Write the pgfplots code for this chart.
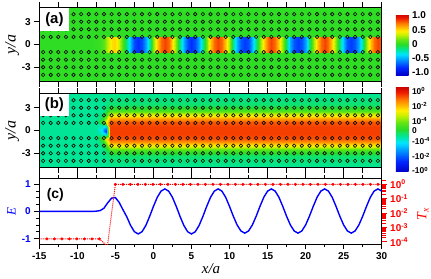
\documentclass[border=0pt]{standalone}
\usepackage{fontspec}
\setmainfont{Liberation Sans}
\newfontfamily\tnr{Liberation Serif}
\usepackage{pgfplots}
\usepackage{pgfplotstable}
\pgfplotsset{compat=1.18}

\definecolor{bgA}{RGB}{48,221,37}
\tikzset{tlab/.style={font=\fontsize{10}{12}\selectfont\bfseries},
  plab/.style={fill=white, anchor=north west, minimum width=29bp, inner sep=0pt,
  font=\fontsize{15}{15}\selectfont\bfseries}}
\pgfplotsset{
  colormap={myjet}{rgb255(0pt)=(0,0,200); rgb255(12pt)=(0,40,255); rgb255(25pt)=(0,150,255); rgb255(34pt)=(0,230,255); rgb255(42pt)=(0,230,150); rgb255(50pt)=(40,220,40); rgb255(58pt)=(100,230,20); rgb255(66pt)=(200,240,0); rgb255(72pt)=(255,240,0); rgb255(84pt)=(255,130,0); rgb255(93pt)=(240,30,0); rgb255(100pt)=(200,0,0)},
  panel/.style={scale only axis, width=342.4bp, xmin=-15, xmax=30,
    tick align=outside, axis line style={line width=0.8bp},
    tick style={line width=0.8bp, black},
    major tick length=5bp, minor tick length=5bp,
    tick label style={tlab},
    /pgf/number format/assume math mode=true,
    xtick={-15,-10,...,30}, minor xtick={-12.5,-7.5,...,27.5},
    xtick pos=both, ytick pos=left, clip marker paths=true},
  rod/.style={only marks, mark=o, black, mark size=1.75bp, mark options={line width=0.6bp}},
}

% lattice rod x positions (second column unused)
\pgfplotstableread[row sep=\\]{x r\\-14.5 0\\-13.5 0\\-12.5 0\\-11.5 0\\-10.5 0\\-9.5 0\\-8.5 0\\-7.5 0\\-6.5 0\\-5.5 0\\-4.5 0\\-3.5 0\\-2.5 0\\-1.5 0\\-0.5 0\\0.5 0\\1.5 0\\2.5 0\\3.5 0\\4.5 0\\5.5 0\\6.5 0\\7.5 0\\8.5 0\\9.5 0\\10.5 0\\11.5 0\\12.5 0\\13.5 0\\14.5 0\\15.5 0\\16.5 0\\17.5 0\\18.5 0\\19.5 0\\20.5 0\\21.5 0\\22.5 0\\23.5 0\\24.5 0\\25.5 0\\26.5 0\\27.5 0\\28.5 0\\29.5 0\\}\rods

% field E along the guide
\pgfplotstableread[row sep=\\]{x E\\-15 0\\
-8 0\\-7.5 0.01\\-7 0.03\\-6.5 0.12\\-6 0.32\\-5.5 0.49\\
-5 0.51\\-4.5 0.33\\-4 0.06\\-3.5 -0.2\\-3 -0.518\\-2.5 -0.748\\
-2 -0.83\\-1.5 -0.748\\-1 -0.518\\-0.5 -0.185\\0 0.185\\0.5 0.518\\
1 0.748\\1.5 0.83\\2 0.748\\2.5 0.518\\3 0.185\\3.5 -0.185\\
4 -0.518\\4.5 -0.748\\5 -0.83\\5.5 -0.748\\6 -0.518\\6.5 -0.185\\
7 0.185\\7.5 0.518\\8 0.748\\8.5 0.83\\9 0.748\\9.5 0.518\\
10 0.185\\10.5 -0.178\\11 -0.5\\11.5 -0.72\\12 -0.8\\12.5 -0.72\\
13 -0.5\\13.5 -0.178\\14 0.185\\14.5 0.518\\15 0.748\\15.5 0.83\\
16 0.748\\16.5 0.518\\17 0.185\\17.5 -0.178\\18 -0.5\\18.5 -0.72\\
19 -0.8\\19.5 -0.72\\20 -0.5\\20.5 -0.178\\21 0.185\\21.5 0.518\\
22 0.748\\22.5 0.83\\23 0.748\\23.5 0.518\\24 0.185\\24.5 -0.178\\
25 -0.5\\25.5 -0.72\\26 -0.8\\26.5 -0.72\\27 -0.5\\27.5 -0.178\\
28 0.185\\28.5 0.518\\29 0.748\\29.5 0.83\\30 0.748\\}\Edata

% map (a): field in the guide core, two scanlines y=-1 and y=1
\pgfplotstableread[row sep=\\]{x y m\\
-8 -1 0\\-7.5 -1 0.01\\-7 -1 0.03\\-6.5 -1 0.12\\-6 -1 0.32\\-5.5 -1 0.49\\
-5 -1 0.51\\-4.5 -1 0.33\\-4 -1 0.06\\-3.5 -1 -0.2\\-3 -1 -0.518\\-2.5 -1 -0.748\\
-2 -1 -0.83\\-1.5 -1 -0.748\\-1 -1 -0.518\\-0.5 -1 -0.185\\0 -1 0.185\\0.5 -1 0.518\\
1 -1 0.748\\1.5 -1 0.83\\2 -1 0.748\\2.5 -1 0.518\\3 -1 0.185\\3.5 -1 -0.185\\
4 -1 -0.518\\4.5 -1 -0.748\\5 -1 -0.83\\5.5 -1 -0.748\\6 -1 -0.518\\6.5 -1 -0.185\\
7 -1 0.185\\7.5 -1 0.518\\8 -1 0.748\\8.5 -1 0.83\\9 -1 0.748\\9.5 -1 0.518\\
10 -1 0.185\\10.5 -1 -0.178\\11 -1 -0.5\\11.5 -1 -0.72\\12 -1 -0.8\\12.5 -1 -0.72\\
13 -1 -0.5\\13.5 -1 -0.178\\14 -1 0.185\\14.5 -1 0.518\\15 -1 0.748\\15.5 -1 0.83\\
16 -1 0.748\\16.5 -1 0.518\\17 -1 0.185\\17.5 -1 -0.178\\18 -1 -0.5\\18.5 -1 -0.72\\
19 -1 -0.8\\19.5 -1 -0.72\\20 -1 -0.5\\20.5 -1 -0.178\\21 -1 0.185\\21.5 -1 0.518\\
22 -1 0.748\\22.5 -1 0.83\\23 -1 0.748\\23.5 -1 0.518\\24 -1 0.185\\24.5 -1 -0.178\\
25 -1 -0.5\\25.5 -1 -0.72\\26 -1 -0.8\\26.5 -1 -0.72\\27 -1 -0.5\\27.5 -1 -0.178\\
28 -1 0.185\\28.5 -1 0.518\\29 -1 0.748\\29.5 -1 0.83\\30 -1 0.748\\
-8 1 0\\-7.5 1 0.01\\-7 1 0.03\\-6.5 1 0.12\\-6 1 0.32\\-5.5 1 0.49\\
-5 1 0.51\\-4.5 1 0.33\\-4 1 0.06\\-3.5 1 -0.2\\-3 1 -0.518\\-2.5 1 -0.748\\
-2 1 -0.83\\-1.5 1 -0.748\\-1 1 -0.518\\-0.5 1 -0.185\\0 1 0.185\\0.5 1 0.518\\
1 1 0.748\\1.5 1 0.83\\2 1 0.748\\2.5 1 0.518\\3 1 0.185\\3.5 1 -0.185\\
4 1 -0.518\\4.5 1 -0.748\\5 1 -0.83\\5.5 1 -0.748\\6 1 -0.518\\6.5 1 -0.185\\
7 1 0.185\\7.5 1 0.518\\8 1 0.748\\8.5 1 0.83\\9 1 0.748\\9.5 1 0.518\\
10 1 0.185\\10.5 1 -0.178\\11 1 -0.5\\11.5 1 -0.72\\12 1 -0.8\\12.5 1 -0.72\\
13 1 -0.5\\13.5 1 -0.178\\14 1 0.185\\14.5 1 0.518\\15 1 0.748\\15.5 1 0.83\\
16 1 0.748\\16.5 1 0.518\\17 1 0.185\\17.5 1 -0.178\\18 1 -0.5\\18.5 1 -0.72\\
19 1 -0.8\\19.5 1 -0.72\\20 1 -0.5\\20.5 1 -0.178\\21 1 0.185\\21.5 1 0.518\\
22 1 0.748\\22.5 1 0.83\\23 1 0.748\\23.5 1 0.518\\24 1 0.185\\24.5 1 -0.178\\
25 1 -0.5\\25.5 1 -0.72\\26 1 -0.8\\26.5 1 -0.72\\27 1 -0.5\\27.5 1 -0.178\\
28 1 0.185\\28.5 1 0.518\\29 1 0.748\\29.5 1 0.83\\30 1 0.748\\}\mapA

% map (b): flux on symmetric-log colour scale (0..1), x varies fastest
\pgfplotstableread[row sep=\\]{x y m\\
-15 -4.9 .42\\-7.5 -4.9 .42\\-6.75 -4.9 .42\\-6.25 -4.9 .42\\-5.75 -4.9 .42\\30 -4.9 .42\\
-15 -3.3 .42\\-7.5 -3.3 .42\\-6.75 -3.3 .42\\-6.25 -3.3 .43\\-5.75 -3.3 .45\\30 -3.3 .45\\
-15 -2.6 .42\\-7.5 -2.6 .42\\-6.75 -2.6 .42\\-6.25 -2.6 .46\\-5.75 -2.6 .55\\30 -2.6 .55\\
-15 -2 .42\\-7.5 -2 .42\\-6.75 -2 .44\\-6.25 -2 .52\\-5.75 -2 .70\\30 -2 .70\\
-15 -1.5 .42\\-7.5 -1.5 .42\\-6.75 -1.5 .47\\-6.25 -1.5 .62\\-5.75 -1.5 .82\\30 -1.5 .82\\
-15 -1.1 .42\\-7.5 -1.1 .42\\-6.75 -1.1 .52\\-6.25 -1.1 .70\\-5.75 -1.1 .88\\30 -1.1 .88\\
-15 -0.5 .42\\-7.5 -0.5 .42\\-6.75 -0.5 .38\\-6.25 -0.5 .30\\-5.75 -0.5 .90\\30 -0.5 .90\\
-15 0 .42\\-7.5 0 .42\\-6.75 0 .33\\-6.25 0 .12\\-5.75 0 .90\\30 0 .90\\
-15 0.5 .42\\-7.5 0.5 .42\\-6.75 0.5 .38\\-6.25 0.5 .30\\-5.75 0.5 .90\\30 0.5 .90\\
-15 1.1 .42\\-7.5 1.1 .42\\-6.75 1.1 .52\\-6.25 1.1 .70\\-5.75 1.1 .88\\30 1.1 .88\\
-15 1.5 .42\\-7.5 1.5 .42\\-6.75 1.5 .47\\-6.25 1.5 .62\\-5.75 1.5 .82\\30 1.5 .82\\
-15 2 .42\\-7.5 2 .42\\-6.75 2 .44\\-6.25 2 .52\\-5.75 2 .70\\30 2 .70\\
-15 2.6 .42\\-7.5 2.6 .42\\-6.75 2.6 .42\\-6.25 2.6 .46\\-5.75 2.6 .55\\30 2.6 .55\\
-15 3.3 .42\\-7.5 3.3 .42\\-6.75 3.3 .42\\-6.25 3.3 .43\\-5.75 3.3 .45\\30 3.3 .45\\
-15 4.9 .42\\-7.5 4.9 .42\\-6.75 4.9 .42\\-6.25 4.9 .42\\-5.75 4.9 .42\\30 4.9 .42\\}\mapB

\begin{document}
\begin{tikzpicture}
\path[use as bounding box] (0,0) rectangle (431bp,-279bp);

% ---------------- (a)
\begin{axis}[panel, name=axA, at={(39.3bp,-7.3bp)}, anchor=north west, height=74.4bp,
  ymin=-4.9, ymax=4.9, ytick={-3,0,3}, xticklabels={},
  axis on top, axis background/.style={fill=bgA},
  colormap name=myjet, point meta min=-1.1, point meta max=1.05,
  colorbar, colorbar style={at={(parent axis.north east)}, anchor=north west,
    xshift=5.6bp, yshift=-6.7bp, scale only axis, width=12.7bp, height=61bp,
    ytick={-1,-0.5,0,0.5,1}, yticklabels={-1.0,-0.5,0,0.5,1.0},
    axis line style={draw=none}, major tick length=0pt, tick style={draw=none},
    yticklabel style={tlab}}]
\addplot[surf, shader=interp, point meta=explicit, mesh/cols=77] table[x=x, y=y, meta=m] {\mapA};
\pgfplotsinvokeforeach{-4,-3,-2,-1,1,2,3,4}{
  \addplot[rod] table[x=x, y expr=#1] {\rods};
}
\end{axis}
\node[plab, minimum height=22.7bp] at ([xshift=0.4bp,yshift=-0.4bp]axA.north west) {(a)};

% ---------------- (b)
\begin{axis}[panel, name=axB, at={(39.3bp,-93.3bp)}, anchor=north west, height=74.4bp,
  ymin=-4.9, ymax=4.9, ytick={-3,0,3}, xticklabels={},
  axis on top,
  colormap name=myjet, point meta min=0, point meta max=1,
  colorbar, colorbar style={at={(parent axis.north east)}, anchor=north west,
    xshift=5.6bp, yshift=6.6bp, scale only axis, width=12.7bp, height=85bp,
    ytick={0.015,0.18,0.36,0.485,0.60,0.77,0.95},
    yticklabels={-10\textsuperscript{0},-10\textsuperscript{-2},-10\textsuperscript{-4},0,10\textsuperscript{-4},10\textsuperscript{-2},10\textsuperscript{0}},
    axis line style={draw=none}, major tick length=0pt, tick style={draw=none},
    yticklabel style={font=\fontsize{8.5}{9}\selectfont\bfseries, inner ysep=0pt}}]
\addplot[surf, shader=interp, point meta=explicit, mesh/cols=6] table[x=x, y=y, meta=m] {\mapB};
\pgfplotsinvokeforeach{-4,-3,-2,-1,1,2,3,4}{
  \addplot[rod] table[x=x, y expr=#1] {\rods};
}
\end{axis}
\node[plab, minimum height=21.7bp] at ([xshift=0.4bp,yshift=-0.4bp]axB.north west) {(b)};

% ---------------- (c) left: E
\begin{axis}[panel, at={(39.3bp,-178.3bp)}, anchor=north west, height=65.7bp,
  ymin=-1.2, ymax=1.22, ytick={-1,0,1}, minor ytick={-0.75,-0.5,-0.25,0.25,0.5,0.75},
  minor tick length=3bp, xticklabel pos=lower,
  yticklabel style={blue}]
\addplot[blue, line width=1.4bp] table[x=x, y=E] {\Edata};
\node[font=\fontsize{14}{14}\selectfont\bfseries] at (axis cs:-12.9,0.6) {(c)};
\end{axis}

% ---------------- (c) right: T_x
\begin{axis}[scale only axis, at={(39.3bp,-178.3bp)}, anchor=north west,
  width=342.4bp, height=65.7bp, xmin=-15, xmax=30,
  ymode=log, ymin=7.08e-5, ymax=2.63,
  xtick=\empty, ytick pos=right, yticklabel pos=right,
  axis line style={draw=none}, tick align=outside,
  ytick={1e-4,1e-3,1e-2,1e-1,1},
  minor ytick={2e-4,3e-4,4e-4,5e-4,6e-4,7e-4,8e-4,9e-4,2e-3,3e-3,4e-3,5e-3,6e-3,7e-3,8e-3,9e-3,2e-2,3e-2,4e-2,5e-2,6e-2,7e-2,8e-2,9e-2,2e-1,3e-1,4e-1,5e-1,6e-1,7e-1,8e-1,9e-1,2},
  yticklabels={10\textsuperscript{-4},10\textsuperscript{-3},10\textsuperscript{-2},10\textsuperscript{-1},10\textsuperscript{0}},
  major tick length=5bp, minor tick length=4bp,
  tick style={red, line width=0.8bp},
  yticklabel style={tlab, red}]
\addplot[red, densely dotted, line width=1bp] coordinates {(-15,1.6e-4) (-7.1,1.6e-4) (-6.05,5e-5) (-5,1) (30,1)};
\addplot[only marks, mark=*, red, mark size=1.3bp] coordinates {
(-14,1.6e-4) (-13.01,1.6e-4) (-12.03,1.6e-4) (-11.04,1.6e-4) (-10.06,1.6e-4) (-9.07,1.6e-4) (-8.08,1.6e-4) (-7.1,1.6e-4)
(-5,1) (-4.01,1) (-3.03,1) (-2.04,1) (-1.06,1) (-0.07,1) (0.92,1) (1.9,1) (2.89,1) (3.87,1) (4.86,1) (5.85,1)
(6.83,1) (7.82,1) (8.8,1) (9.79,1) (10.78,1) (11.76,1) (12.75,1) (13.73,1) (14.72,1) (15.7,1) (16.69,1) (17.68,1)
(18.66,1) (19.65,1) (20.63,1) (21.62,1) (22.61,1) (23.59,1) (24.58,1) (25.56,1) (26.55,1) (27.53,1) (28.52,1) (29.51,1)};
\end{axis}

% axis titles
\node[rotate=90, font=\fontsize{16}{16}\selectfont\tnr\itshape] at (12bp,-44.5bp) {y/a};
\node[rotate=90, font=\fontsize{16}{16}\selectfont\tnr\itshape] at (12bp,-130.5bp) {y/a};
\node[rotate=90, blue, font=\fontsize{13}{13}\selectfont\tnr\itshape] at (11.5bp,-211.5bp) {E};
\node[rotate=90, red, font=\fontsize{14}{14}\selectfont\tnr\itshape] at (423bp,-214bp) {T\textsubscript{x}};
\node[font=\fontsize{15}{15}\selectfont\tnr\itshape] at (211bp,-269bp) {x/a};
\end{tikzpicture}
\end{document}
